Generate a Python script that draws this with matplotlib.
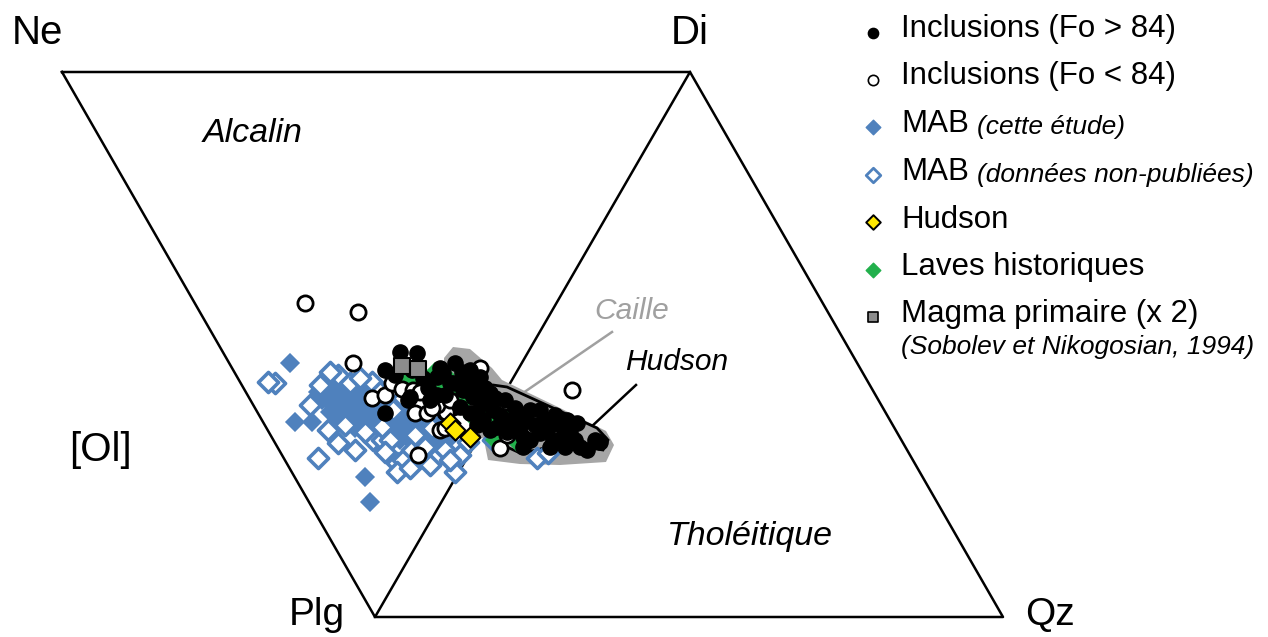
import matplotlib.pyplot as plt
from matplotlib.patches import Polygon

plt.rcParams['font.family'] = ['Liberation Sans', 'DejaVu Sans']

# diagram corners (image coordinates, y down)
corner_names = ["Ne", "Di", "Plg", "Qz"]
corner_xy = [(62, 72), (690, 72), (375, 617), (1003, 617)]

# MAB (cette étude) - filled blue diamonds
mab_x = [290, 318, 333, 335, 348, 355, 342, 330, 295, 312, 355, 365, 372, 365, 370,
         325, 340, 345, 350, 360, 362, 368, 375, 378, 382, 388, 395, 400, 405, 410,
         415, 420, 425, 430, 435, 440, 428, 418, 408, 398, 390, 380, 370, 358, 345,
         338, 350, 360, 385, 392, 400, 410, 420, 440, 445, 338, 328, 352, 375, 396,
         405, 448, 322, 332, 342, 355, 365, 372, 385, 392, 402, 412, 422, 432, 438,
         398, 380, 346, 358]
mab_y = [363, 392, 382, 400, 397, 410, 413, 412, 422, 422, 428, 400, 420, 477, 502,
         395, 390, 405, 392, 395, 408, 412, 405, 415, 410, 420, 415, 425, 418, 428,
         425, 435, 430, 440, 432, 438, 420, 415, 410, 405, 400, 395, 390, 385, 385,
         420, 418, 420, 430, 435, 440, 440, 445, 445, 430, 392, 388, 403, 425, 428,
         432, 440, 400, 405, 398, 400, 415, 398, 415, 408, 415, 420, 428, 435, 425,
         435, 420, 410, 415]

# MAB (données non-publiées) - open blue diamonds
mabnp_x = [275, 338, 350, 372, 328, 338, 318, 373, 382, 382, 390, 397, 403, 412,
           425, 437, 455, 397, 268, 320, 360, 380, 393, 403, 365, 415, 432, 445,
           460, 537, 548, 493, 468, 450, 430, 410, 385, 355, 345, 310, 330, 408]
mabnp_y = [383, 375, 383, 382, 430, 443, 458, 440, 440, 427, 440, 463, 460, 450,
           447, 457, 472, 472, 382, 385, 378, 392, 410, 398, 432, 435, 428, 450,
           455, 458, 453, 440, 442, 460, 465, 468, 452, 450, 425, 405, 372, 375]

# laves historiques - green diamonds
hist_x = [407, 428, 450, 460, 473, 447, 450, 510, 517, 500, 420, 440, 465, 490,
          505, 520, 435, 480, 495]
hist_y = [380, 393, 397, 393, 417, 390, 380, 418, 442, 420, 380, 385, 400, 425,
          437, 440, 372, 410, 440]

# Hudson - yellow diamonds
hud_x = [450, 455, 470]
hud_y = [423, 430, 437]

# inclusions Fo > 84 - black circles
fo_hi_x = [400, 417, 385, 385, 410, 440, 455, 470, 480, 423, 437, 450, 460, 467,
           428, 408, 437, 477, 483, 477, 443, 453, 463, 473, 460, 470, 480, 490,
           493, 483, 497, 507, 520, 530, 540, 523, 530, 547, 553, 563, 567, 577,
           570, 580, 587, 600, 523, 540, 490, 500, 510, 505, 515, 525, 560, 555,
           445, 430, 395, 412, 465, 475, 485, 495, 505, 515, 535, 545, 575, 595,
           550, 565, 520, 462]
fo_hi_y = [352, 353, 370, 413, 397, 368, 363, 370, 377, 378, 377, 383, 383, 390,
           388, 400, 395, 412, 403, 425, 373, 383, 390, 397, 407, 413, 400, 393,
           410, 420, 427, 432, 427, 410, 410, 437, 440, 430, 440, 437, 420, 423,
           433, 447, 450, 442, 447, 433, 430, 415, 420, 400, 408, 420, 425, 415,
           395, 400, 375, 370, 378, 385, 388, 398, 425, 430, 425, 420, 440, 440,
           447, 447, 415, 372]

# inclusions Fo < 84 - open circles
fo_lo_x = [305, 358, 353, 372, 385, 392, 402, 413, 415, 427, 445, 440, 453, 418,
           480, 503, 446, 445, 500, 507, 572, 437, 420, 432, 450]
fo_lo_y = [303, 312, 363, 398, 395, 383, 389, 390, 413, 413, 412, 430, 407, 455,
           368, 403, 412, 428, 448, 435, 390, 405, 392, 408, 400]

# magma primaire (x 2) - grey squares
prim_x = [402, 418]
prim_y = [366, 369]

# fields
caille_field = [(444, 358), (453, 347), (470, 349), (492, 368), (502, 380), (560, 408),
                (606, 431), (614, 445), (606, 462), (560, 465), (520, 464), (488, 460),
                (484, 440), (468, 420), (453, 395), (444, 375)]
hudson_field = [(480, 393), (493, 385), (507, 387), (597, 428), (608, 440), (603, 450),
                (583, 447), (563, 448), (547, 447), (537, 450), (520, 453), (507, 447),
                (497, 433), (487, 417), (480, 403)]

blue = "#4F81BD"
green = "#22B04C"

fig = plt.figure(figsize=(12.68, 6.37), dpi=100)
ax = fig.add_axes([0, 0, 1, 1])
ax.set_xlim(0, 1268)
ax.set_ylim(637, 0)
ax.axis("off")

ne, di, plg, qz = corner_xy
ax.plot([ne[0], di[0], plg[0], ne[0]], [ne[1], di[1], plg[1], ne[1]], color="black", lw=1.8, zorder=1)
ax.plot([plg[0], qz[0], di[0]], [plg[1], qz[1], di[1]], color="black", lw=1.8, zorder=1)

ax.add_patch(Polygon(caille_field, closed=True, facecolor="#a6a6a6", edgecolor="none", zorder=2))
ax.add_patch(Polygon(hudson_field, closed=True, facecolor="#a6a6a6", edgecolor="black", lw=2, zorder=3))
ax.plot([612, 523], [332, 393], color="#a0a0a0", lw=1.8, zorder=2)
ax.plot([636, 590], [385, 428], color="black", lw=1.8, zorder=2)

ms = 105
ax.scatter(mab_x, mab_y, marker="D", s=ms, color=blue, edgecolors="none", zorder=4)
ax.scatter(mabnp_x, mabnp_y, marker="D", s=ms, facecolors="white", edgecolors=blue, lw=2.6, zorder=4)
ax.scatter(hist_x, hist_y, marker="D", s=ms, color=green, edgecolors="none", zorder=5)
ax.scatter(fo_lo_x, fo_lo_y, marker="o", s=120, facecolors="white", edgecolors="black", lw=2, zorder=6)
ax.scatter(fo_hi_x, fo_hi_y, marker="o", s=120, color="black", edgecolors="black", zorder=6)
ax.scatter(hud_x, hud_y, marker="D", s=ms, color="#FFE800", edgecolors="black", lw=1.5, zorder=7)
ax.scatter(prim_x, prim_y, marker="s", s=120, color="#8c8c8c", edgecolors="black", lw=1.5, zorder=7)

# corner and field labels
ax.text(37, 33, "Ne", fontsize=29, ha="center", va="center")
ax.text(690, 33, "Di", fontsize=29, ha="center", va="center")
ax.text(317, 615, "Plg", fontsize=28, ha="center", va="center")
ax.text(1050, 615, "Qz", fontsize=28, ha="center", va="center")
ax.text(100, 450, "[Ol]", fontsize=29, ha="center", va="center")
ax.text(253, 133, "Alcalin", fontsize=24.5, style="italic", ha="center", va="center")
ax.text(750, 536, "Tholéitique", fontsize=24.5, style="italic", ha="center", va="center")
ax.text(632, 311, "Caille", fontsize=21.5, style="italic", color="#a0a0a0", ha="center", va="center")
ax.text(677, 362, "Hudson", fontsize=21.5, style="italic", ha="center", va="center")

# legend
lx, tx = 873, 901
ls = 55
ax.scatter([lx], [33], marker="o", s=ls, color="black")
ax.scatter([lx], [80], marker="o", s=ls, facecolors="white", edgecolors="black", lw=1.2)
ax.scatter([lx], [127], marker="D", s=ls, color=blue)
ax.scatter([lx], [175], marker="D", s=ls, facecolors="white", edgecolors=blue, lw=2)
ax.scatter([lx], [222], marker="D", s=ls, color="#FFE800", edgecolors="black", lw=1.4)
ax.scatter([lx], [270], marker="D", s=ls, color=green)
ax.scatter([lx], [317], marker="s", s=ls, color="#8c8c8c", edgecolors="black", lw=1.2)

fs = 22.5
ax.text(tx, 29, "Inclusions (Fo > 84)", fontsize=fs, va="center")
ax.text(tx, 76, "Inclusions (Fo < 84)", fontsize=fs, va="center")
ax.text(tx, 124, "MAB", fontsize=fs, va="center")
ax.text(977, 127, "(cette étude)", fontsize=19, style="italic", va="center")
ax.text(tx, 172, "MAB", fontsize=fs, va="center")
ax.text(977, 175, "(données non-publiées)", fontsize=19, style="italic", va="center")
ax.text(tx, 220, "Hudson", fontsize=fs, va="center")
ax.text(tx, 267, "Laves historiques", fontsize=fs, va="center")
ax.text(tx, 314, "Magma primaire (x 2)", fontsize=fs, va="center")
ax.text(tx, 347, "(Sobolev et Nikogosian, 1994)", fontsize=19, style="italic", va="center")

fig.savefig("out.png", dpi=100)
